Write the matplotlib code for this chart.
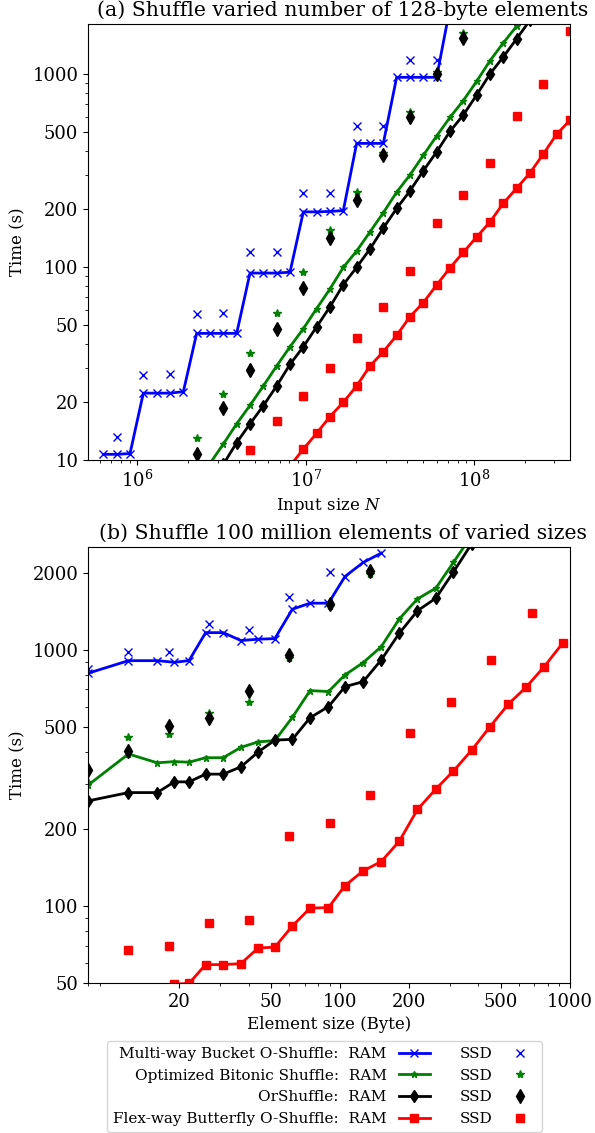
"""Oblivious shuffle timings: (a) vs input size, (b) vs element size."""

import numpy as np
import matplotlib

matplotlib.use("Agg")
import matplotlib.pyplot as plt
from matplotlib.ticker import NullFormatter

plt.rcParams["font.family"] = "DejaVu Serif"
plt.rcParams["mathtext.fontset"] = "dejavuserif"

# ---- panel (a): number of 128-byte elements (millions) ----
n_millions = [0.629, 0.755, 0.906, 1.087, 1.305, 1.566, 1.879, 2.254, 2.705,
              3.246, 3.896, 4.675, 5.610, 6.732, 8.078, 9.694, 11.63, 13.96,
              16.75, 20.10, 24.12, 28.94, 34.73, 41.68, 50.02, 60.02, 72.02,
              86.43, 103.7, 124.5, 149.4, 179.2, 215.1, 258.1, 309.7, 371.6]
# SSD runs were measured at every second size
n_ssd_millions = n_millions[1::2]

bucket_ram_a = [10.7, 10.7, 10.8, 22.2, 22.2, 22.2, 22.6, 45.3, 45.3, 45.3,
                45.3, 93, 93, 93, 94, 193, 193, 194, 196, 437, 437, 437, 961,
                961, 961, 961, 2200] + [None] * 9
bitonic_ram_a = [None] * 8 + [9.6, 12.1, 15.4, 19.2, 24.2, 30.7, 38.6, 47.9,
                              60.9, 77, 99.6, 121, 152, 191, 244, 300, 379,
                              477, 596, 728, 916, 1171, 1450, 1768, 2200] + [None] * 3
orshuffle_ram_a = [None] * 9 + [9.5, 12.3, 15.4, 19.1, 24.2, 31.3, 38.6, 49.0,
                                62.2, 81, 99.6, 124, 159, 201, 248, 315, 395,
                                504, 613, 778, 1000, 1227, 1520, 1900, 2400] + [None] * 2
butterfly_ram_a = [None] * 14 + [9.3, 11.4, 13.75, 16.8, 19.9, 24.2, 30.7,
                                 36.4, 44.2, 55.3, 65.4, 80.6, 99, 119, 143,
                                 171, 214, 256, 307, 385, 487, 576]

bucket_ssd_a = [13.2, 27.6, 27.9, 56.9, 57.9, 119, 119, 243, 243, 538, 538,
                1182, 1182] + [None] * 5
bitonic_ssd_a = [None] * 3 + [13.0, 22.0, 36.0, 57.5, 94, 155.5, 244, 391,
                              635, 1028, 1626] + [None] * 4
orshuffle_ssd_a = [None] * 3 + [10.8, 18.5, 29.3, 47.6, 78, 140.8, 222, 380,
                                597, 995, 1531] + [None] * 4
butterfly_ssd_a = [None] * 5 + [11.3, 15.9, 21.4, 29.9, 42.7, 61.8, 95, 169.6,
                                235, 347, 605, 887, 1677]

# ---- panel (b): 100 million elements, element size in bytes ----
size_ram = [8, 12, 16, 19, 22, 26, 31, 37, 44, 52, 62, 74, 89, 105, 126, 151,
            181, 217, 261, 311, 374, 449, 539, 644, 773, 929]
size_ssd = [8, 12, 18, 27, 40, 60, 90, 135, 202, 303, 452, 682]

bucket_ram_b = [810, 907, 907, 894, 907, 1167, 1167, 1087, 1100, 1106, 1441,
                1521, 1521, 1933, 2193, 2386] + [None] * 10
bitonic_ram_b = [296, 392, 362, 366, 364, 379, 379, 416, 437, 442, 545, 693,
                 687, 798, 891, 1029, 1321, 1580, 1741, 2193, 2800] + [None] * 5
orshuffle_ram_b = [257, 277, 277, 305, 305, 327, 327, 349, 399, 444, 447, 543,
                   600, 718, 751, 913, 1161, 1420, 1591, 2011, 2600] + [None] * 5
butterfly_ram_b = [38, 42, 46, 49.5, 49.8, 59, 59, 59.5, 68.5, 69, 83.5, 98,
                   98.5, 120, 137, 149, 179, 238, 286, 336, 406, 501, 613, 714,
                   860, 1061]

bucket_ssd_b = [840, 984, 980, 1262, 1196, 1606, 2017] + [None] * 5
bitonic_ssd_b = [305, 458, 468, 565, 627, 927, 1485, 1975] + [None] * 4
orshuffle_ssd_b = [339, 404, 505, 540, 691, 955, 1508, 2035] + [None] * 4
butterfly_ssd_b = [None, 67.5, 69.8, 85.8, 87.9, 187, 210, 271, 472, 624, 913,
                   1398]

algorithms = ["Multi-way Bucket O-Shuffle", "Optimized Bitonic Shuffle",
              "OrShuffle", "Flex-way Butterfly O-Shuffle"]
colors = ["b", "g", "k", "r"]
markers = ["x", "*", "d", "s"]
ram_ms = [5.5, 5, 6, 6]
ssd_ms = [6, 6, 7, 6]


def _arr(values):
    return np.array(values, dtype=float)


def _draw(ax, x_ram, rams, x_ssd, ssds):
    ram_handles, ssd_handles = [], []
    for i in range(4):
        (h1,) = ax.plot(x_ram, _arr(rams[i]), color=colors[i], marker=markers[i],
                        ms=ram_ms[i], lw=2)
        (h2,) = ax.plot(x_ssd, _arr(ssds[i]), color=colors[i], marker=markers[i],
                        ms=ssd_ms[i], ls="none")
        ram_handles.append(h1)
        ssd_handles.append(h2)
    return ram_handles, ssd_handles


fig = plt.figure(figsize=(5.95, 11.33), dpi=100)
ax1 = fig.add_axes([0.1479, 0.594, 0.810, 0.3848])
ax2 = fig.add_axes([0.1479, 0.1324, 0.810, 0.3848])

tick_fs = 13
label_fs = 12
title_fs = 14.7
title_x = 0.529

_draw(ax1, _arr(n_millions) * 1e6,
      [bucket_ram_a, bitonic_ram_a, orshuffle_ram_a, butterfly_ram_a],
      _arr(n_ssd_millions) * 1e6,
      [bucket_ssd_a, bitonic_ssd_a, orshuffle_ssd_a, butterfly_ssd_a])
ax1.set_xscale("log")
ax1.set_yscale("log")
ax1.set_xlim(5.1e5, 3.716e8)
ax1.set_ylim(10, 1815)
yt = [10, 20, 50, 100, 200, 500, 1000]
ax1.set_yticks(yt, [str(v) for v in yt])
ax1.yaxis.set_minor_formatter(NullFormatter())
ax1.set_xlabel("Input size $N$", fontsize=label_fs)
ax1.set_ylabel("Time (s)", fontsize=label_fs)
ax1.set_title("(a) Shuffle varied number of 128-byte elements",
              fontsize=title_fs, x=title_x)
ax1.tick_params(labelsize=tick_fs)

ram_h, ssd_h = _draw(ax2, size_ram,
                     [bucket_ram_b, bitonic_ram_b, orshuffle_ram_b, butterfly_ram_b],
                     size_ssd,
                     [bucket_ssd_b, bitonic_ssd_b, orshuffle_ssd_b, butterfly_ssd_b])
ax2.set_xscale("log")
ax2.set_yscale("log")
ax2.set_xlim(8, 1000)
ax2.set_ylim(50, 2520)
xt = [20, 50, 100, 200, 500, 1000]
ax2.set_xticks(xt, [str(v) for v in xt])
ax2.xaxis.set_minor_formatter(NullFormatter())
yt2 = [50, 100, 200, 500, 1000, 2000]
ax2.set_yticks(yt2, [str(v) for v in yt2])
ax2.yaxis.set_minor_formatter(NullFormatter())
ax2.set_xlabel("Element size (Byte)", fontsize=label_fs)
ax2.set_ylabel("Time (s)", fontsize=label_fs)
ax2.set_title("(b) Shuffle 100 million elements of varied sizes",
              fontsize=title_fs, x=title_x)
ax2.tick_params(labelsize=tick_fs)

labels = [a + ":  RAM" for a in algorithms] + ["SSD"] * 4
fig.legend(ram_h + ssd_h, labels, ncol=2, markerfirst=False, fontsize=11,
           loc="upper left", bbox_to_anchor=(107 / 595, 1 - 1041 / 1133),
           borderaxespad=0)

fig.savefig("out.png", dpi=100)
